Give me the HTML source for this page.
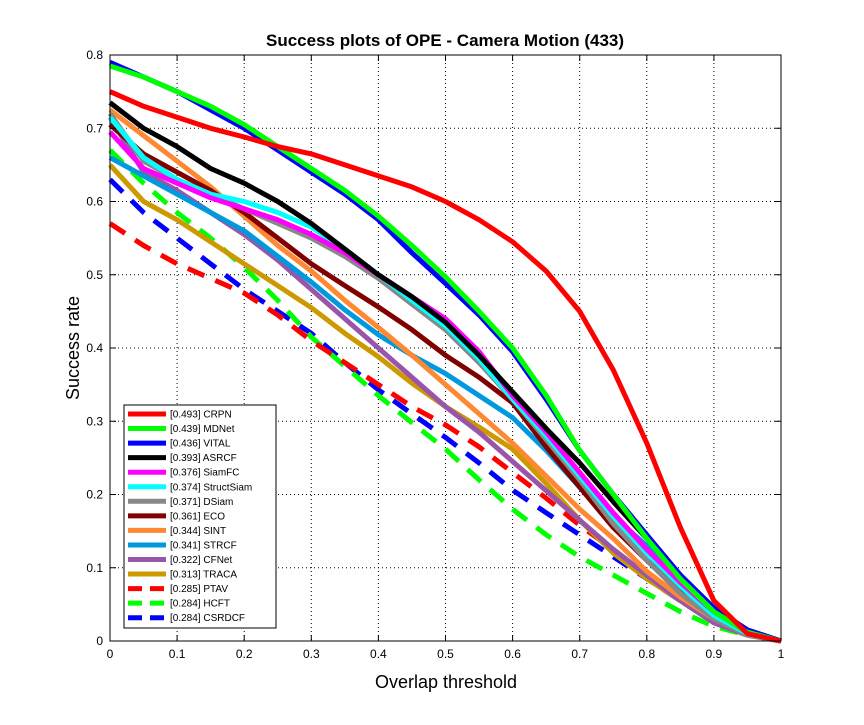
<!DOCTYPE html>
<html><head><meta charset="utf-8"><style>
body{margin:0;background:#fff;}
svg{font-family:"Liberation Sans",Arial,sans-serif;}
</style></head><body>
<svg id="c" width="864" height="720" viewBox="0 0 864 720">
<rect x="0" y="0" width="864" height="720" fill="#fff"/>
<g id="grid"></g><g id="series"></g><g id="axes"></g><g id="legend"></g>
<text x="445" y="46" text-anchor="middle" font-size="17" font-weight="bold">Success plots of OPE - Camera Motion (433)</text>
<text x="446" y="688" text-anchor="middle" font-size="18">Overlap threshold</text>
<text transform="translate(79,348) rotate(-90)" text-anchor="middle" font-size="18">Success rate</text>
</svg>
<script>
const xs=[0,.05,.1,.15,.2,.25,.3,.35,.4,.45,.5,.55,.6,.65,.7,.75,.8,.85,.9,.95,1];
const names=["[0.493] CRPN","[0.439] MDNet","[0.436] VITAL","[0.393] ASRCF","[0.376] SiamFC","[0.374] StructSiam","[0.371] DSiam","[0.361] ECO","[0.344] SINT","[0.341] STRCF","[0.322] CFNet","[0.313] TRACA","[0.285] PTAV","[0.284] HCFT","[0.284] CSRDCF"];
const colors=["#ff0000","#00ff00","#0000ff","#000000","#ff00ff","#00ffff","#888888","#800000","#ff8833","#0099dd","#9955aa","#cc9900","#ff0000","#00ff00","#0000ff"];
const dashed=[false,false,false,false,false,false,false,false,false,false,false,false,true,true,true];
const sCRPN=[.75,.73,.715,.70,.688,.675,.665,.65,.635,.62,.60,.575,.545,.505,.45,.37,.27,.155,.055,.01,0];
const sMDNet=[.785,.77,.75,.73,.705,.675,.645,.615,.58,.54,.497,.45,.40,.335,.26,.20,.14,.085,.04,.012,0];
const sVITAL=[.79,.77,.75,.725,.70,.67,.64,.61,.575,.53,.488,.445,.395,.33,.26,.20,.145,.09,.045,.015,0];
const sASRCF=[.735,.70,.675,.645,.625,.60,.57,.535,.50,.47,.435,.39,.34,.29,.243,.19,.14,.09,.045,.015,0];
const sSiamFC=[.695,.645,.625,.605,.59,.575,.555,.53,.50,.47,.44,.395,.335,.285,.23,.175,.125,.08,.04,.012,0];
const sStructSiam=[.715,.66,.63,.61,.60,.585,.565,.535,.50,.465,.43,.385,.33,.28,.225,.17,.12,.075,.035,.01,0];
const sDSiam=[.72,.655,.63,.61,.59,.57,.55,.525,.495,.46,.425,.38,.33,.275,.22,.16,.11,.065,.03,.008,0];
const sECO=[.705,.665,.64,.615,.585,.55,.515,.485,.456,.425,.39,.36,.325,.265,.21,.155,.11,.07,.035,.01,0];
const sSINT=[.725,.69,.655,.62,.58,.54,.505,.465,.428,.39,.35,.31,.27,.225,.18,.14,.095,.06,.03,.01,0];
const sSTRCF=[.66,.635,.61,.585,.56,.525,.49,.452,.418,.39,.365,.335,.305,.26,.21,.17,.13,.09,.045,.015,0];
const sCFNet=[.715,.64,.615,.585,.555,.52,.48,.44,.40,.36,.32,.285,.245,.205,.165,.125,.09,.055,.025,.008,0];
const sTRACA=[.65,.60,.575,.545,.515,.485,.455,.42,.388,.352,.32,.292,.262,.215,.165,.12,.085,.055,.025,.008,0];
const sPTAV=[.57,.54,.515,.495,.475,.445,.41,.38,.35,.32,.295,.265,.23,.195,.158,.125,.09,.055,.025,.008,0];
const sHCFT=[.67,.625,.585,.55,.51,.465,.415,.375,.335,.298,.262,.22,.18,.145,.115,.09,.065,.04,.02,.008,0];
const sCSRDCF=[.63,.585,.55,.515,.48,.45,.42,.38,.343,.31,.278,.243,.206,.175,.145,.115,.085,.055,.025,.008,0];
const series=[sCRPN,sMDNet,sVITAL,sASRCF,sSiamFC,sStructSiam,sDSiam,sECO,sSINT,sSTRCF,sCFNet,sTRACA,sPTAV,sHCFT,sCSRDCF];
const xTicks=[0,0.1,0.2,0.3,0.4,0.5,0.6,0.7,0.8,0.9,1];
const yTicks=[0,0.1,0.2,0.3,0.4,0.5,0.6,0.7,0.8];
const X0=110,X1=781,Y0=641,Y1=55;
const sx=v=>X0+(X1-X0)*v, sy=v=>Y0-(Y0-Y1)*v/0.8;
const NS="http://www.w3.org/2000/svg";
function mk(t,a,p){const e=document.createElementNS(NS,t);for(const k in a)e.setAttribute(k,a[k]);p.appendChild(e);return e;}
const grid=document.getElementById('grid'),axes=document.getElementById('axes'),sg=document.getElementById('series'),lg=document.getElementById('legend');
mk('rect',{x:X0,y:Y1,width:X1-X0,height:Y0-Y1,fill:'#fff',stroke:'none'},grid);
xTicks.forEach(t=>{
 if(t>0&&t<1){const l=mk('line',{x1:sx(t),x2:sx(t),y1:Y1,y2:Y0,stroke:'#000','stroke-width':1,'stroke-dasharray':'1 3'},grid);
 
 }
 mk('line',{x1:sx(t),x2:sx(t),y1:Y0,y2:Y0-6,stroke:'#000'},axes);
 mk('line',{x1:sx(t),x2:sx(t),y1:Y1,y2:Y1+6,stroke:'#000'},axes);
 const tx=mk('text',{x:sx(t),y:Y0+17,'text-anchor':'middle','font-size':12},axes);tx.textContent=t;
 
 
});
yTicks.forEach(t=>{
 if(t>0&&t<0.8){const l=mk('line',{x1:X0,x2:X1,y1:sy(t),y2:sy(t),stroke:'#000','stroke-width':1,'stroke-dasharray':'1 3'},grid);
 
 }
 mk('line',{x1:X0,x2:X0+6,y1:sy(t),y2:sy(t),stroke:'#000'},axes);
 mk('line',{x1:X1,x2:X1-6,y1:sy(t),y2:sy(t),stroke:'#000'},axes);
 const tx=mk('text',{x:X0-7,y:sy(t)+4,'text-anchor':'end','font-size':12},axes);tx.textContent=t;
 
 
});
mk('rect',{x:X0,y:Y1,width:X1-X0,height:Y0-Y1,fill:'none',stroke:'#000'},axes);
for(let i=series.length-1;i>=0;i--){
 const d=series[i].map((v,j)=>(j?'L':'M')+sx(xs[j]).toFixed(1)+','+sy(v).toFixed(1)).join('');
 const p=mk('path',{d:d,fill:'none',stroke:colors[i],'stroke-width':5,'stroke-linejoin':'round'},sg);
 if(dashed[i])p.setAttribute('stroke-dasharray','18 12');
 
 
}
const box=mk('rect',{x:124,y:405,width:152,height:223,fill:'#fff',stroke:'#000'},lg);


names.forEach((n,i)=>{
 const y=414+i*14.55;
 const l=mk('line',{x1:128,x2:166,y1:y,y2:y,stroke:colors[i],'stroke-width':5},lg);
 if(dashed[i])l.setAttribute('stroke-dasharray','14 8');
 const t=mk('text',{x:170,y:y+3.5,'font-size':10},lg);t.textContent=n;
 
 
});
</script>
</body></html>
